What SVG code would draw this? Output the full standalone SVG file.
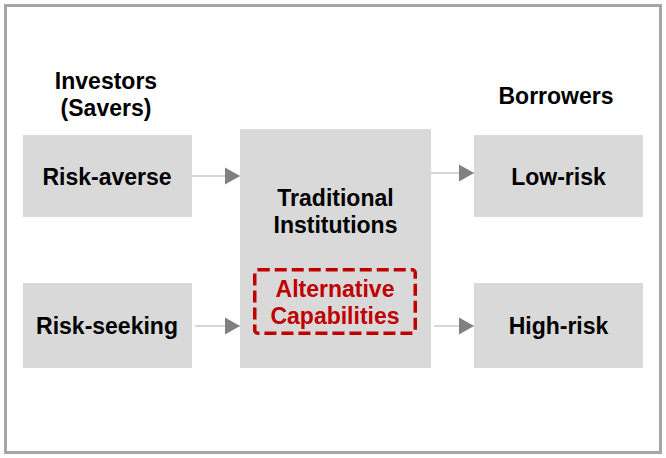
<svg xmlns="http://www.w3.org/2000/svg" width="666" height="458" viewBox="0 0 666 458">
<defs>
<style>
.box{fill:#d9d9d9;}
.t{font-family:"Liberation Sans",Arial,sans-serif;font-weight:bold;font-size:23px;text-anchor:middle;fill:#000;}
.red{fill:#c00000;}
.conn{stroke:#c8c8c8;stroke-width:1.5;fill:none;marker-end:url(#ah);}
</style>
<marker id="ah" markerUnits="userSpaceOnUse" markerWidth="16" markerHeight="18" refX="15" refY="9" orient="auto" viewBox="0 0 16 18">
<path d="M0,0.5 L15,9 L0,17.5 z" fill="#808080"/>
</marker>
</defs>
<rect x="5.5" y="5.5" width="655" height="447" fill="#fff" stroke="#a6a6a6" stroke-width="3"/>
<g id="label-investors">
<text class="t" x="106" y="89">Investors</text>
<text class="t" x="106" y="116">(Savers)</text>
</g>
<g id="label-borrowers">
<text class="t" x="556" y="104">Borrowers</text>
</g>
<g id="risk-averse">
<rect class="box" x="23" y="135" width="169" height="82"/>
<text class="t" x="107" y="185">Risk-averse</text>
</g>
<g id="risk-seeking">
<rect class="box" x="23" y="283" width="169" height="85"/>
<text class="t" x="107" y="334">Risk-seeking</text>
</g>
<g id="traditional">
<rect class="box" x="240" y="129" width="191" height="239"/>
<text class="t" x="335.5" y="206">Traditional</text>
<text class="t" x="335.5" y="233">Institutions</text>
</g>
<g id="alternative">
<rect x="254.75" y="269.75" width="160.5" height="63.5" rx="3" fill="none" stroke="#c00000" stroke-width="3.5" stroke-dasharray="12 5"/>
<text class="t red" x="335" y="297">Alternative</text>
<text class="t red" x="335" y="324">Capabilities</text>
</g>
<g id="low-risk">
<rect class="box" x="474" y="135" width="169" height="82"/>
<text class="t" x="558.5" y="185">Low-risk</text>
</g>
<g id="high-risk">
<rect class="box" x="474" y="283" width="169" height="85"/>
<text class="t" x="558.5" y="334">High-risk</text>
</g>
<g id="connectors">
<line class="conn" x1="192" y1="176" x2="240" y2="176"/>
<line class="conn" x1="431" y1="173" x2="474" y2="173"/>
<line class="conn" x1="195" y1="326" x2="240" y2="326"/>
<line class="conn" x1="434" y1="326" x2="474" y2="326"/>
</g>
</svg>
